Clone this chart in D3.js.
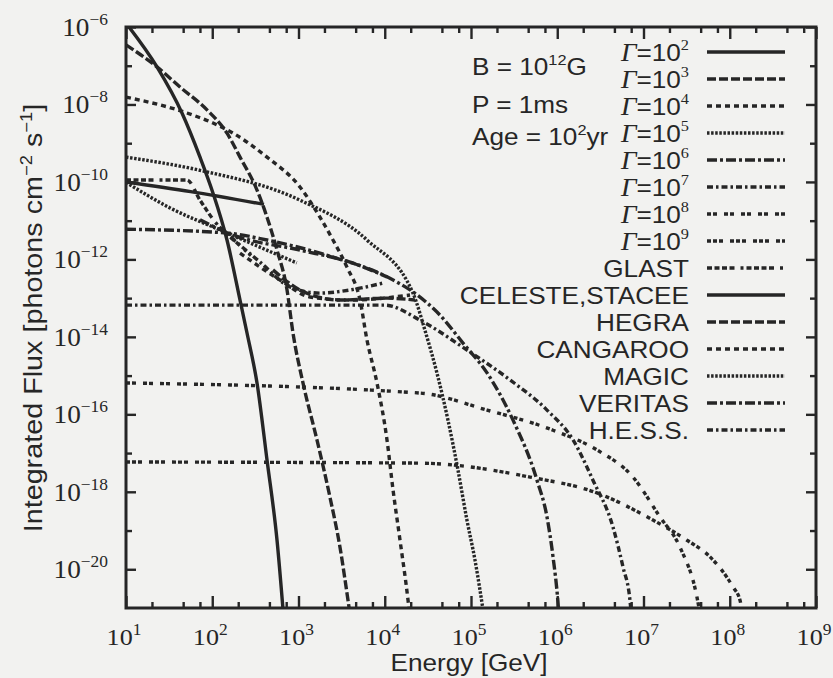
<!DOCTYPE html>
<html>
<head>
<meta charset="utf-8">
<script src="https://cdn.jsdelivr.net/npm/d3@7"></script>
<style>
	body { margin: 0; background: #f2f2f0; }
	svg { display: block; }
	.sans { font-family: "Liberation Sans", Arial, sans-serif; }
	.serif { font-family: "Liberation Serif", "Times New Roman", serif; }
</style>
</head>
<body>
<svg id="chart" width="833" height="678"></svg>
<script>
// values, as [log10(E / GeV), log10(flux)]
var gamma2 = [[1.0,-5.9],[1.359,-7.03],[1.649,-8.22],[1.858,-9.36],[2.009,-10.29],[2.171,-11.5],[2.322,-13.05],[2.403,-13.9],[2.519,-15.19],[2.635,-17.18],[2.751,-19.25],[2.83,-21.3]];
var gamma3 = [[1.0,-6.46],[1.359,-7.03],[1.626,-7.55],[1.939,-8.14],[2.171,-8.74],[2.322,-9.36],[2.519,-10.21],[2.635,-10.91],[2.751,-11.76],[2.867,-12.79],[2.936,-13.9],[3.052,-15.19],[3.214,-16.66],[3.365,-18.14],[3.481,-19.43],[3.574,-20.8],[3.6,-21.2]];
var gamma4 = [[1.0,-7.81],[1.707,-8.22],[2.009,-8.48],[2.241,-8.74],[2.635,-9.36],[3.017,-10.13],[3.249,-10.91],[3.4,-11.5],[3.562,-12.2],[3.713,-13.05],[3.794,-14.08],[3.91,-15.19],[4.026,-16.66],[4.096,-17.95],[4.177,-19.25],[4.27,-20.8],[4.29,-21.2]];
var gamma5 = [[1.0,-9.36],[1.858,-9.7],[3.017,-10.47],[3.794,-11.5],[4.327,-12.87],[4.466,-13.83],[4.606,-14.94],[4.733,-16.15],[4.849,-17.44],[4.953,-18.73],[5.046,-19.76],[5.15,-21.2]];
var gamma6 = [[1.0,-11.22],[2.171,-11.32],[2.635,-11.5],[3.4,-11.94],[4.026,-12.45],[4.327,-12.84],[4.641,-13.44],[4.907,-14.16],[5.186,-14.93],[5.487,-16.15],[5.765,-17.7],[5.881,-18.65],[5.951,-19.68],[6.009,-20.87],[6.02,-21.2]];
var gamma7 = [[1.0,-13.18],[4.003,-13.18],[4.409,-13.57],[4.954,-14.34],[5.452,-15.11],[5.881,-15.89],[6.183,-16.66],[6.414,-17.7],[6.646,-18.91],[6.762,-19.94],[6.843,-20.8],[6.86,-21.2]];
var gamma8 = [[1.0,-15.19],[4.409,-15.45],[5.186,-15.89],[5.951,-16.41],[6.461,-16.92],[6.878,-17.62],[7.191,-18.65],[7.423,-19.43],[7.62,-20.72],[7.66,-21.2]];
var gamma9 = [[1.0,-17.23],[4.409,-17.26],[5.684,-17.62],[6.461,-18.03],[7.11,-18.73],[7.504,-19.25],[7.771,-19.68],[8.038,-20.46],[8.119,-20.8],[8.15,-21.2]];

// detector sensitivities
var glast = [[1.0,-9.95],[1.707,-9.95],[1.858,-10.47],[2.032,-11.03],[2.3,-11.6],[2.45,-11.9]];
var celeste = [[1.0,-10.0],[1.75,-10.25],[2.6,-10.58]];
var hegra = [[2.704,-12.27],[3.017,-12.79],[3.481,-13.05],[4.026,-13.0],[4.35,-13.05]];
var cangaroo = [[2.322,-11.84],[2.785,-12.53],[3.133,-12.97],[3.597,-13.05],[4.293,-12.92]];
var magic = [[1.0,-10.01],[1.51,-10.67],[2.09,-11.24],[2.98,-12.09]];
var veritas = [[1.858,-10.98],[2.241,-11.37],[3.017,-11.76],[3.597,-12.07],[4.026,-12.45]];
var hess = [[2.09,-11.19],[2.554,-12.07],[2.901,-12.71],[3.249,-12.87],[3.597,-12.79],[3.98,-12.61]];

var series = [gamma2, gamma3, gamma4, gamma5, gamma6, gamma7, gamma8, gamma9, glast, celeste, hegra, cangaroo, magic, veritas, hess];
var gammaExp = ["2","3","4","5","6","7","8","9"];
var instrumentNames = ["GLAST", "CELESTE,STACEE", "HEGRA", "CANGAROO", "MAGIC", "VERITAS", "H.E.S.S."];

var xDecades = [1,2,3,4,5,6,7,8,9];
var yDecades = [-21,-20,-19,-18,-17,-16,-15,-14,-13,-12,-11,-10,-9,-8,-7,-6];
var yLabelled = [-20,-18,-16,-14,-12,-10,-8,-6];
var xMinorSteps = [2, 4.6, 7.2];

// gnuplot style line types, cycled
var dashes = [
	null, "9,3", "5,4", "2.5,1.6", "10,3,3,3", "6,3,2.5,3", "4,2,4,7", "4,2,4,2,4,7",
	"5,2.5,5,2.5,5,2.5,5,6,3,3", null, "9,3", "5,4", "2.5,1.6", "10,3,3,3", "6,3,2.5,3"
];

var ink = "#262626";
var L = 126, T = 27, R = 816, B = 608;
var stretch = 1.09; // the scanned lettering runs a bit wide

var svg = d3.select("#chart");
var x = d3.scaleLog().domain([1e1, 1e9]).range([L, R]);
var y = d3.scaleLog().domain([1e-21, 1e-6]).range([B, T]);

svg.append("defs").append("clipPath").attr("id", "plotclip")
	.append("rect").attr("x", L).attr("y", T).attr("width", R - L).attr("height", B - T);

var line = d3.line()
	.x(function(d){ return x(Math.pow(10, d[0])); })
	.y(function(d){ return y(Math.pow(10, d[1])); })
	.curve(d3.curveMonotoneX);

svg.append("g").attr("clip-path", "url(#plotclip)")
	.selectAll("path").data(series).enter().append("path")
	.attr("d", line)
	.attr("fill", "none")
	.attr("stroke", ink)
	.attr("stroke-width", 3.4)
	.attr("stroke-dasharray", function(d, i){ return dashes[i]; });

// ticks
var xMajor = xDecades.map(function(e){ return Math.pow(10, e); });
var xMinor = [];
xDecades.slice(0, -1).forEach(function(e){
	xMinorSteps.forEach(function(m){ xMinor.push(m * Math.pow(10, e)); });
});
var yMajor = yLabelled.map(function(e){ return Math.pow(10, e); });
var yMinor = yDecades.filter(function(e){ return yLabelled.indexOf(e) < 0 && e > -21; })
	.map(function(e){ return Math.pow(10, e); });

function drawAxis(axis, tr){
	var g = svg.append("g").attr("transform", tr).call(axis);
	g.select(".domain").remove();
	g.selectAll("line").attr("stroke", ink).attr("stroke-width", 2.4);
	g.selectAll("text").remove();
	return g;
}
drawAxis(d3.axisBottom(x).tickValues(xMajor).tickSize(-12), "translate(0," + B + ")");
drawAxis(d3.axisBottom(x).tickValues(xMinor).tickSize(-6), "translate(0," + B + ")");
drawAxis(d3.axisTop(x).tickValues(xMajor).tickSize(-12), "translate(0," + T + ")");
drawAxis(d3.axisTop(x).tickValues(xMinor).tickSize(-6), "translate(0," + T + ")");
drawAxis(d3.axisLeft(y).tickValues(yMajor).tickSize(-10), "translate(" + L + ",0)");
drawAxis(d3.axisLeft(y).tickValues(yMinor).tickSize(-6), "translate(" + L + ",0)");
drawAxis(d3.axisRight(y).tickValues(yMajor).tickSize(-10), "translate(" + R + ",0)");
drawAxis(d3.axisRight(y).tickValues(yMinor).tickSize(-6), "translate(" + R + ",0)");

svg.append("rect").attr("x", L).attr("y", T).attr("width", R - L).attr("height", B - T)
	.attr("fill", "none").attr("stroke", ink).attr("stroke-width", 3);

// text placed at (px, py), widened a little like the scan
function label(px, py, anchor, size, cls, rot){
	return svg.append("text").attr("class", cls)
		.attr("transform", "translate(" + px + "," + py + ")" + (rot ? " rotate(" + rot + ")" : "") + " scale(" + stretch + ",1)")
		.attr("text-anchor", anchor).attr("font-size", size).attr("fill", ink);
}
function power(sel, base, exp, supSize, dy, after){
	sel.append("tspan").text(base);
	sel.append("tspan").attr("font-size", supSize).attr("dy", dy).text(exp);
	if(after){
		sel.append("tspan").attr("dy", -dy).text(after);
	}
}

// tick labels
xDecades.forEach(function(e){
	power(label(x(Math.pow(10, e)) - 2, 645, "middle", 24, "serif"), "10", String(e), 16, -10);
});
yLabelled.forEach(function(e){
	power(label(108, y(Math.pow(10, e)) + 9, "end", 25, "serif"), "10", "\u2212" + (-e), 16, -11);
});

// axis titles
label(469, 671, "middle", 24, "sans").text("Energy [GeV]");
var yt = label(42, 318, "middle", 25, "sans", -90);
yt.attr("transform", "translate(42,318) rotate(-90) scale(1.15,1)");
power(yt, "Integrated Flux [photons cm", "\u22122", 16, -10, " s");
power(yt, "", "\u22121", 16, -10, "]");

// parameters
power(label(472, 75, "start", 24, "sans"), "B = 10", "12", 15, -10, "G");
label(472, 113, "start", 24, "sans").text("P = 1ms");
power(label(472, 145, "start", 24, "sans"), "Age = 10", "2", 15, -10, "yr");

// legend
var labels = gammaExp.map(function(e){ return {gamma: e}; })
	.concat(instrumentNames.map(function(n){ return {name: n}; }));
labels.forEach(function(d, i){
	var ly = 52 + 27 * i;
	var t = label(689, ly + 9, "end", 24, "sans");
	if(d.gamma){
		t.append("tspan").attr("class", "serif").attr("font-style", "italic").attr("font-size", 25).text("\u0393");
		t.append("tspan").text("=10");
		t.append("tspan").attr("class", "serif").attr("font-size", 15).attr("dy", -11).text(d.gamma);
	}else{
		t.text(d.name);
	}
	svg.append("line").attr("x1", 707).attr("x2", 785).attr("y1", ly).attr("y2", ly)
		.attr("stroke", ink).attr("stroke-width", 3.4)
		.attr("stroke-dasharray", dashes[i]);
});
</script>
</body>
</html>
